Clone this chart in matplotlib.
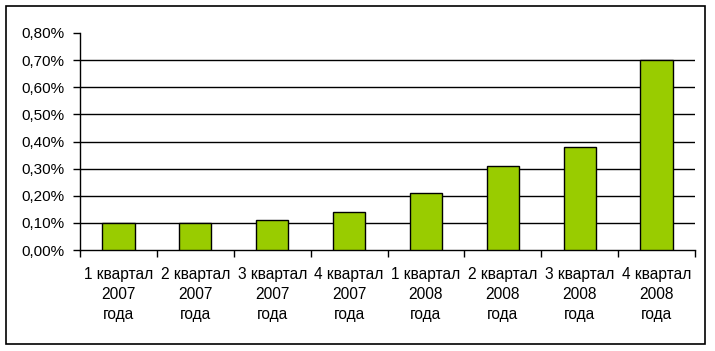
import matplotlib.pyplot as plt
from matplotlib.patches import Rectangle

# Chart data
quarters = ['1 квартал\n2007\nгода', '2 квартал\n2007\nгода', '3 квартал\n2007\nгода',
            '4 квартал\n2007\nгода', '1 квартал\n2008\nгода', '2 квартал\n2008\nгода',
            '3 квартал\n2008\nгода', '4 квартал\n2008\nгода']
values = [0.10, 0.10, 0.11, 0.14, 0.21, 0.31, 0.38, 0.70]
yticks = [0.0, 0.1, 0.2, 0.3, 0.4, 0.5, 0.6, 0.7, 0.8]
ytick_labels = ['0,00%', '0,10%', '0,20%', '0,30%', '0,40%', '0,50%', '0,60%', '0,70%', '0,80%']

plt.rcParams['font.family'] = ['Liberation Sans', 'DejaVu Sans']

W, H = 715, 351
fig = plt.figure(figsize=(W / 100, H / 100), dpi=100)

# outer border
fig.patches.append(Rectangle((6 / W, 1 - 344 / H), 699 / W, 338 / H,
                             transform=fig.transFigure, fill=False,
                             edgecolor='black', linewidth=1.2))

ax = fig.add_axes([80 / W, 1 - 250 / H, 615 / W, 217 / H])

x = list(range(len(values)))
ax.bar(x, values, width=0.42, color='#99CC00', edgecolor='black', linewidth=1, zorder=3)

ax.set_xlim(-0.5, len(values) - 0.5)
ax.set_ylim(0, 0.8)

for t in yticks[1:-1]:
    ax.axhline(t, color='black', linewidth=1, zorder=1)

ax.set_yticks(yticks)
ax.set_yticklabels(ytick_labels, fontsize=11)

# x ticks at category boundaries, labels centred under bars
ax.set_xticks([i - 0.5 for i in range(len(values) + 1)])
ax.set_xticklabels([])
ax.set_xticks(x, minor=True)
ax.set_xticklabels(quarters, minor=True, fontsize=11.2, linespacing=1.45)
ax.tick_params(axis='x', which='minor', length=0, pad=12)
ax.tick_params(axis='x', which='major', length=5, width=1, direction='out')
ax.tick_params(axis='y', length=5, width=1, direction='out', pad=6)

for side in ['top', 'right']:
    ax.spines[side].set_visible(False)
for side in ['left', 'bottom']:
    ax.spines[side].set_linewidth(1)

fig.savefig('out.png', dpi=100)
